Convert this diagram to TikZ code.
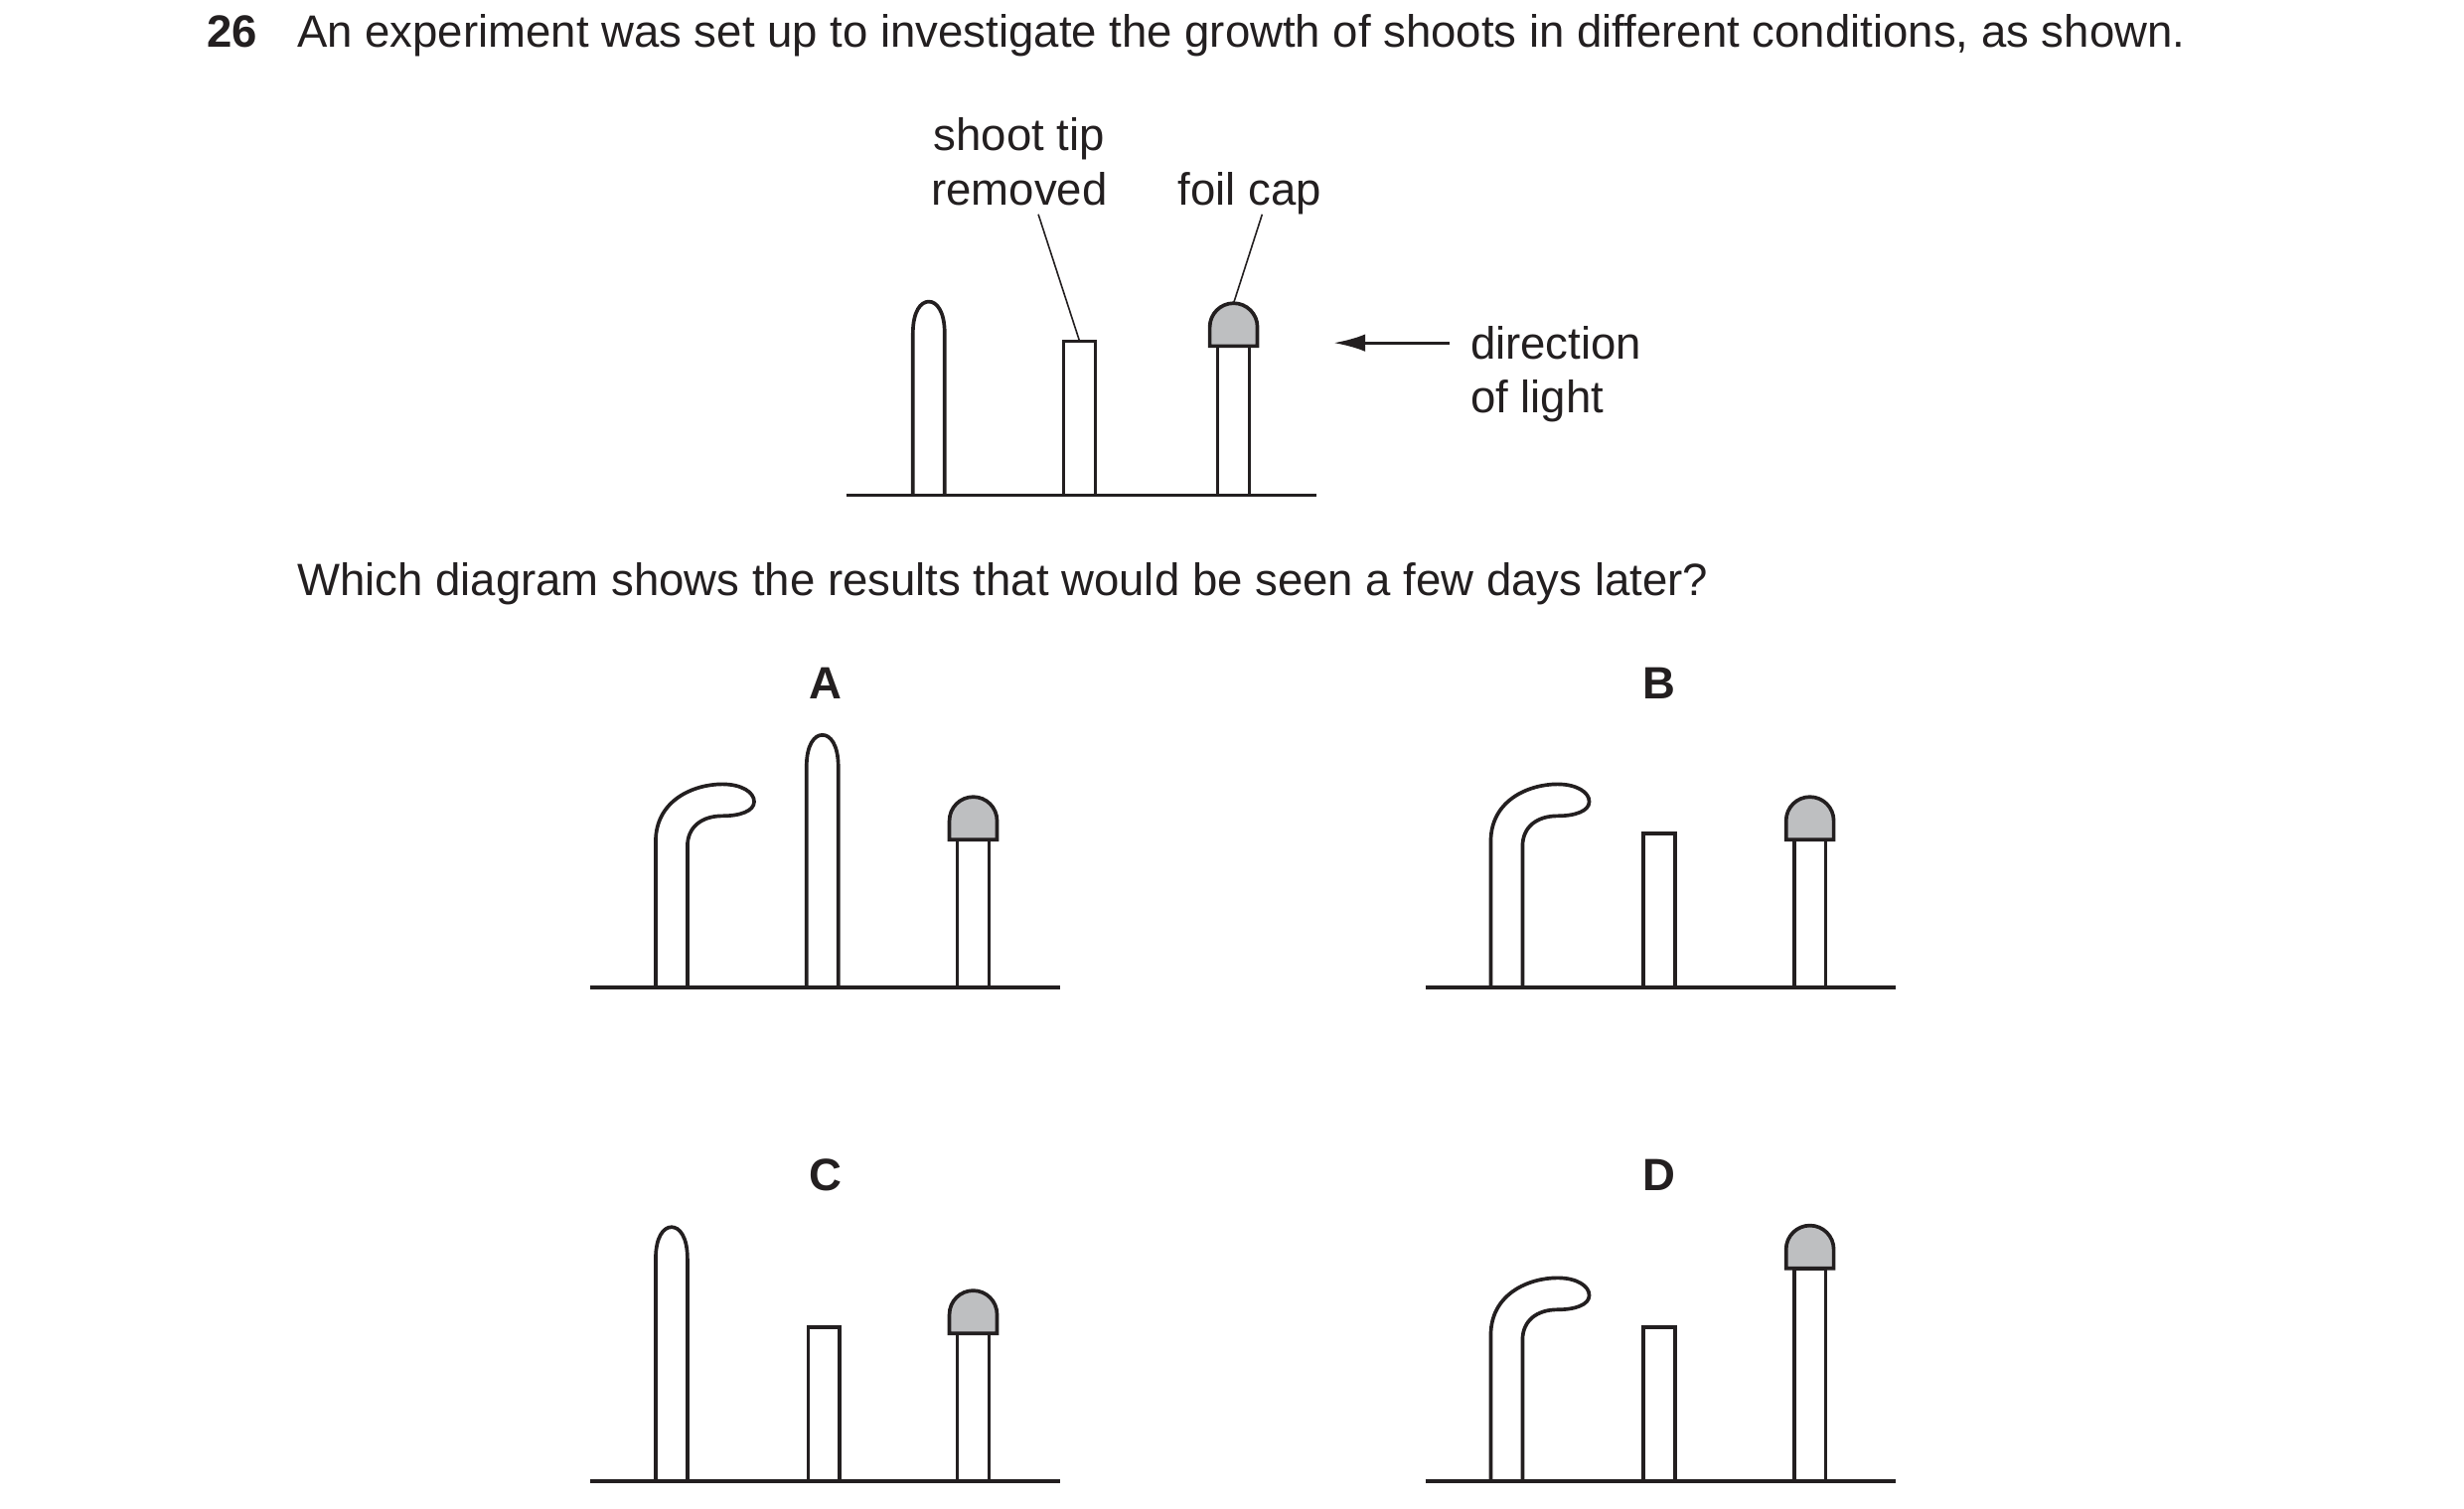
\documentclass[tikz,border=0pt]{standalone}
\usepackage{fontspec}
\setmainfont{Liberation Sans}
\usetikzlibrary{arrows.meta}
\definecolor{ink}{RGB}{35,31,32}
\definecolor{capgrey}{RGB}{190,191,193}
\begin{document}
\begin{tikzpicture}[x=1pt,y=-1pt,
  shoot/.style={draw=ink,line width=2.3pt,fill=white,line join=miter},
  foilcap/.style={draw=ink,line width=2.3pt,fill=capgrey},
  ground/.style={draw=ink,line width=2.3pt},
  txt/.style={font=\fontsize{28.5}{34}\selectfont,text=ink,inner sep=0pt},
  lbl/.style={font=\fontsize{28.5}{34}\selectfont\bfseries,text=ink,inner sep=0pt},
  lead/.style={draw=ink,line width=1pt},
  pics/tall/.style args={#1/#2}{code={
    \path[shoot] (#1,0) -- (#1,-#2+20) .. controls (#1,-#2+6) and (#1+5,-#2) .. (#1+10,-#2)
      .. controls (#1+15,-#2) and (#1+20,-#2+6) .. (#1+20,-#2+20) -- (#1+20,0);}},
  pics/cut/.style args={#1/#2}{code={\path[shoot] (#1,0) rectangle (#1+20,-#2);}},
  pics/capped/.style args={#1/#2}{code={
    \path[shoot] (#1,0) -- (#1,-#2) -- (#1+20,-#2) -- (#1+20,0);
    \path[foilcap] (#1-5,-#2) -- ++(0,-12) arc[start angle=180,end angle=360,radius=15] -- ++(0,12) -- cycle;}},
  pics/bent/.style={code={
    \path[shoot] (41,0) -- (41,-92) .. controls (41,-118) and (65,-128) .. (83,-128)
      .. controls (95,-128) and (103,-123) .. (103,-117) .. controls (103,-111) and (94,-108) .. (83,-108)
      .. controls (70,-108) and (61,-101) .. (61,-89) -- (61,0);}},
  pics/gline/.style={code={\path[ground] (0,0) -- (296,0);}}
]
\useasboundingbox (0,0) rectangle (1552,950);
% title
\node[lbl,anchor=base west] (num) at (130,30) {26};
\node[txt,anchor=base west] (title) at (187,30) {An experiment was set up to investigate the growth of shoots in different conditions, as shown.};
% top figure
\begin{scope}[shift={(533,312)}]
  \pic {tall=42/122};
  \pic {cut=137/97};
  \pic {capped=234/94};
  \coordinate (cuttop) at (147,-97);
  \coordinate (captop) at (244,-121);
  \pic {gline};
\end{scope}
\node[txt,anchor=base] (stl1) at (642,95) {shoot tip};
\node[txt,anchor=base] (stl2) at (642,129) {removed};
\node[txt,anchor=base] (fcl) at (787,129) {foil cap};
\coordinate (s1) at (654,135);
\coordinate (s2) at (795,135);
\draw[lead] (s1) -- (cuttop);
\draw[lead] (s2) -- (captop);
\node[txt,anchor=base west] (dir1) at (926,226) {direction};
\node[txt,anchor=base west] (dir2) at (926,260) {of light};
\coordinate (arrs) at (913,216);
\coordinate (arre) at (840,216);
\draw[draw=ink,line width=2pt,-{Latex[length=20pt,width=11pt]}] (arrs) -- (arre);
% question
\node[txt,anchor=base west] (q) at (187,375) {Which diagram shows the results that would be seen a few days later?};
% A
\node[lbl,anchor=base] (la) at (520,440) {A};
\begin{scope}[shift={(372,622)}]
  \pic {bent}; \pic {tall=136/159}; \pic {capped=231/93}; \pic {gline};
\end{scope}
% B
\node[lbl,anchor=base] (lb) at (1045,440) {B};
\begin{scope}[shift={(898,622)}]
  \pic {bent}; \pic {cut=137/97}; \pic {capped=232/93}; \pic {gline};
\end{scope}
% C
\node[lbl,anchor=base] (lc) at (520,750) {C};
\begin{scope}[shift={(372,933)}]
  \pic {tall=41/160}; \pic {cut=137/97}; \pic {capped=231/93}; \pic {gline};
\end{scope}
% D
\node[lbl,anchor=base] (ld) at (1045,750) {D};
\begin{scope}[shift={(898,933)}]
  \pic {bent}; \pic {cut=137/97}; \pic {capped=232/134}; \pic {gline};
\end{scope}
\end{tikzpicture}
\end{document}
